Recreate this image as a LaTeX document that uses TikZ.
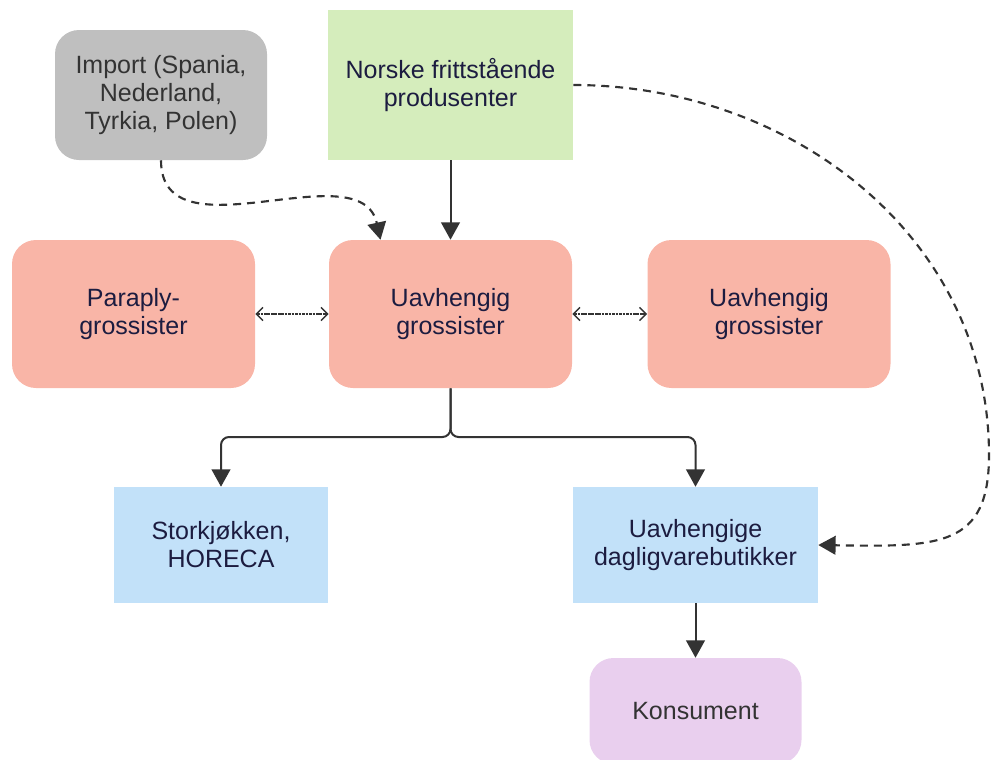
\documentclass[tikz,border=0pt]{standalone}
\usepackage{fontspec}
\setmainfont{Liberation Sans}
\usetikzlibrary{arrows.meta,calc}

\definecolor{navytext}{HTML}{1C1C40}
\definecolor{greytext}{HTML}{333333}
\definecolor{linecol}{HTML}{333333}
\definecolor{greyfill}{HTML}{BFBFBF}
\definecolor{greenfill}{HTML}{D5EDBC}
\definecolor{salmonfill}{HTML}{F9B5A7}
\definecolor{bluefill}{HTML}{C2E1F9}
\definecolor{purplefill}{HTML}{E9CFEE}

\tikzset{
  box/.style={draw=none, align=center, inner sep=0pt, text=navytext,
    font=\fontsize{18.75}{21}\selectfont},
  roundbox/.style={box, rounded corners=18pt},
  flow/.style={draw=linecol, line width=1.5pt, -{Triangle[length=13pt,width=14pt]}},
  dashflow/.style={flow, line width=1.6pt, dash pattern=on 6pt off 4.5pt},
  exchange/.style={draw=linecol, line width=1pt, dash pattern=on 2pt off 0.6pt,
    {Straight Barb[length=5pt,width=10pt,line width=1.1pt]}-{Straight Barb[length=5pt,width=10pt,line width=1.1pt]}}
}

\begin{document}
\begin{tikzpicture}[x=0.75pt,y=-0.75pt]
  \useasboundingbox (0,0) rectangle (992,760);
  \clip (0,0) rectangle (992,760);

  % sources
  \node[roundbox, fill=greyfill, text=greytext, minimum width=159pt, minimum height=97.5pt]
    (imp) at (161,95) {Import (Spania,\\Nederland,\\Tyrkia, Polen)};
  \node[box, fill=greenfill, minimum width=183.75pt, minimum height=112.5pt]
    (nor) at (450.5,85) {Norske frittstående\\produsenter};

  % wholesalers
  \node[roundbox, fill=salmonfill, minimum width=182.25pt, minimum height=111pt]
    (par) at (133.5,314) {Paraply-\\grossister};
  \node[roundbox, fill=salmonfill, minimum width=182.25pt, minimum height=111pt]
    (ctr) at (450.5,314) {Uavhengig\\grossister};
  \node[roundbox, fill=salmonfill, minimum width=182.25pt, minimum height=111pt]
    (rgt) at (769,314) {Uavhengig\\grossister};

  % retail
  \node[box, fill=bluefill, minimum width=160.5pt, minimum height=87pt]
    (sto) at (221,545) {Storkjøkken,\\HORECA};
  \node[box, fill=bluefill, minimum width=183.75pt, minimum height=87pt]
    (dag) at (695.5,545) {Uavhengige\\dagligvarebutikker};

  % consumer
  \node[roundbox, fill=purplefill, text=greytext, minimum width=159pt, minimum height=79.5pt]
    (kon) at (695.5,711) {Konsument};

  % connectors
  \draw[flow] (nor.south) -- (ctr.north);
  \draw[dashflow] (imp.south) .. controls ($(imp.south)+(0,100)$) and ($(ctr.north)+(-90,-90)$)
    .. ($(ctr.north)+(-70,0)$);

  \coordinate (bend) at (989,455);
  \draw[dashflow] (nor.east) to[out=0,in=90] (bend)
    .. controls ($(bend)+(0,92)$) and ($(dag.east)+(122,2)$) .. (dag.east);

  \draw[exchange] (par.east) -- (ctr.west);
  \draw[exchange] (ctr.east) -- (rgt.west);

  \coordinate (split) at (450.5,437);
  \draw[flow, rounded corners=6pt] (ctr.south) |- (sto.north |- split) -- (sto.north);
  \draw[flow, rounded corners=6pt] (ctr.south) |- (dag.north |- split) -- (dag.north);

  \draw[flow] (dag.south) -- (kon.north);
\end{tikzpicture}
\end{document}
